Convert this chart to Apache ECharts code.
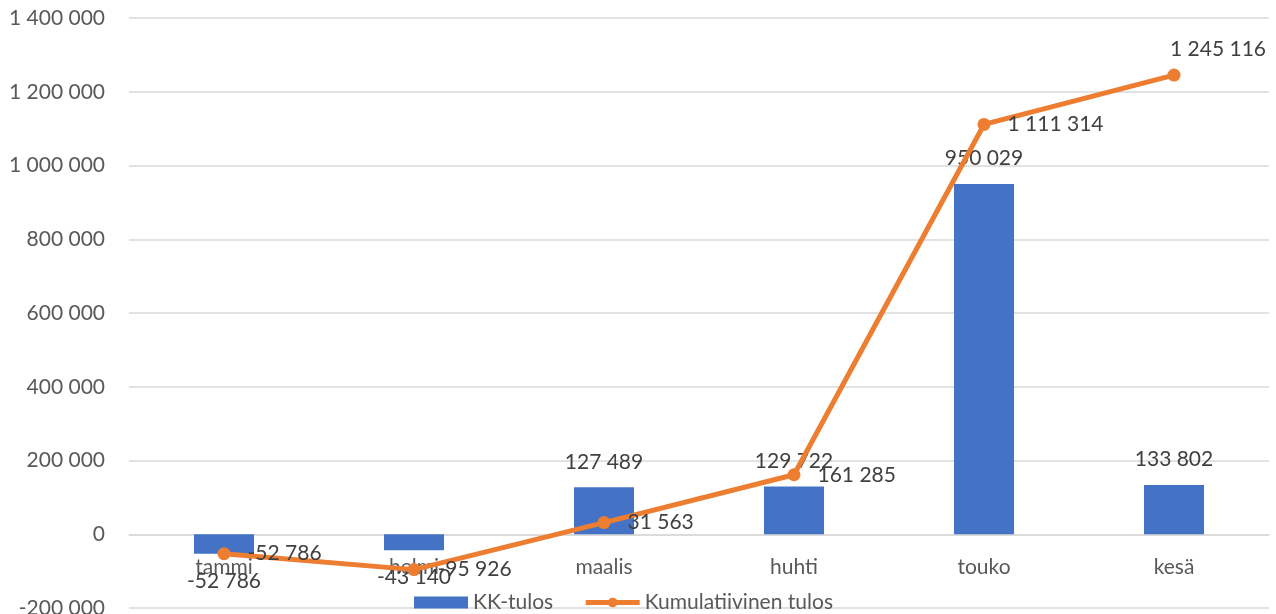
<!DOCTYPE html>
<html>
<head>
<meta charset="utf-8">
<script src="https://cdn.jsdelivr.net/npm/echarts@6/dist/echarts.min.js"></script>
<style>
html,body{margin:0;padding:0;background:#fff;}
#c{width:1276px;height:614px;}
</style>
</head>
<body>
<div id="c"></div>
<script>
var categories = ['tammi', 'helmi', 'maalis', 'huhti', 'touko', 'kesä'];
var kkTulos = [-52786, -43140, 127489, 129722, 950029, 133802];
var kumulatiivinen = [-52786, -95926, 31563, 161285, 1111314, 1245116];
var seriesNames = ['KK-tulos', 'Kumulatiivinen tulos'];
var yMin = -200000, yMax = 1400000, yStep = 200000;

function fmt(v) {
  var s = String(Math.abs(Math.round(v)));
  var out = s.replace(/\B(?=(\d{3})+(?!\d))/g, ' ');
  return (v < 0 ? '-' : '') + out;
}

var FONT = 'Lato';
var GRID_TOP = 18, GRID_BOTTOM = 6, H = 614;
var gridH = H - GRID_TOP - GRID_BOTTOM;
var zeroOffset = -(0 - yMin) / (yMax - yMin) * gridH;

var chart = echarts.init(document.getElementById('c'), null, {renderer: 'canvas'});
var barData = kkTulos.map(function (v) {
  return {
    value: v,
    label: v < 0 ? {position: 'bottom', distance: 17} : {position: 'top', distance: 15}
  };
});
var lineData = kumulatiivinen.map(function (v, i) {
  if (i === kumulatiivinen.length - 1) {
    return {value: v, label: {position: 'top', distance: 9, offset: [44, 0]}};
  }
  return {value: v};
});

chart.setOption({
  animation: false,
  backgroundColor: '#ffffff',
  textStyle: {fontFamily: FONT},
  grid: {left: 129, right: 7, top: GRID_TOP, bottom: GRID_BOTTOM, containLabel: false, outerBoundsMode: 'none'},
  legend: {
    left: 409,
    top: 587,
    itemWidth: 54,
    itemHeight: 12,
    itemGap: 30,
    textStyle: {fontFamily: FONT, fontSize: 21, color: '#595959', padding: [0, 0, 0, 0]},
    data: [
      {name: seriesNames[0], icon: 'rect'},
      {name: seriesNames[1], lineStyle: {width: 5, color: '#ED7D31'}, itemStyle: {color: '#ED7D31'}}
    ]
  },
  xAxis: {
    type: 'category',
    data: categories,
    offset: zeroOffset,
    axisLine: {show: true, onZero: false, lineStyle: {color: '#d9d9d9', width: 1.5}},
    axisTick: {show: false},
    axisLabel: {fontFamily: FONT, fontSize: 21, color: '#595959', margin: 22}
  },
  yAxis: {
    type: 'value',
    min: yMin,
    max: yMax,
    interval: yStep,
    axisLine: {show: false},
    axisTick: {show: false},
    splitLine: {lineStyle: {color: '#d9d9d9', width: 1.5}},
    axisLabel: {fontFamily: FONT, fontSize: 21, color: '#595959', margin: 24, formatter: fmt}
  },
  series: [
    {
      name: seriesNames[0],
      type: 'bar',
      barWidth: 60,
      data: barData,
      itemStyle: {color: '#4472C4'},
      label: {show: true, fontFamily: FONT, fontSize: 21, color: '#404040', formatter: function (p) { return fmt(p.value); }}
    },
    {
      name: seriesNames[1],
      type: 'line',
      data: lineData,
      symbol: 'circle',
      symbolSize: 13,
      lineStyle: {color: '#ED7D31', width: 5},
      itemStyle: {color: '#ED7D31'},
      z: 5,
      label: {show: true, position: 'right', distance: 17, fontFamily: FONT, fontSize: 21, color: '#404040', formatter: function (p) { return fmt(p.value); }}
    }
  ]
});
</script>
</body>
</html>
